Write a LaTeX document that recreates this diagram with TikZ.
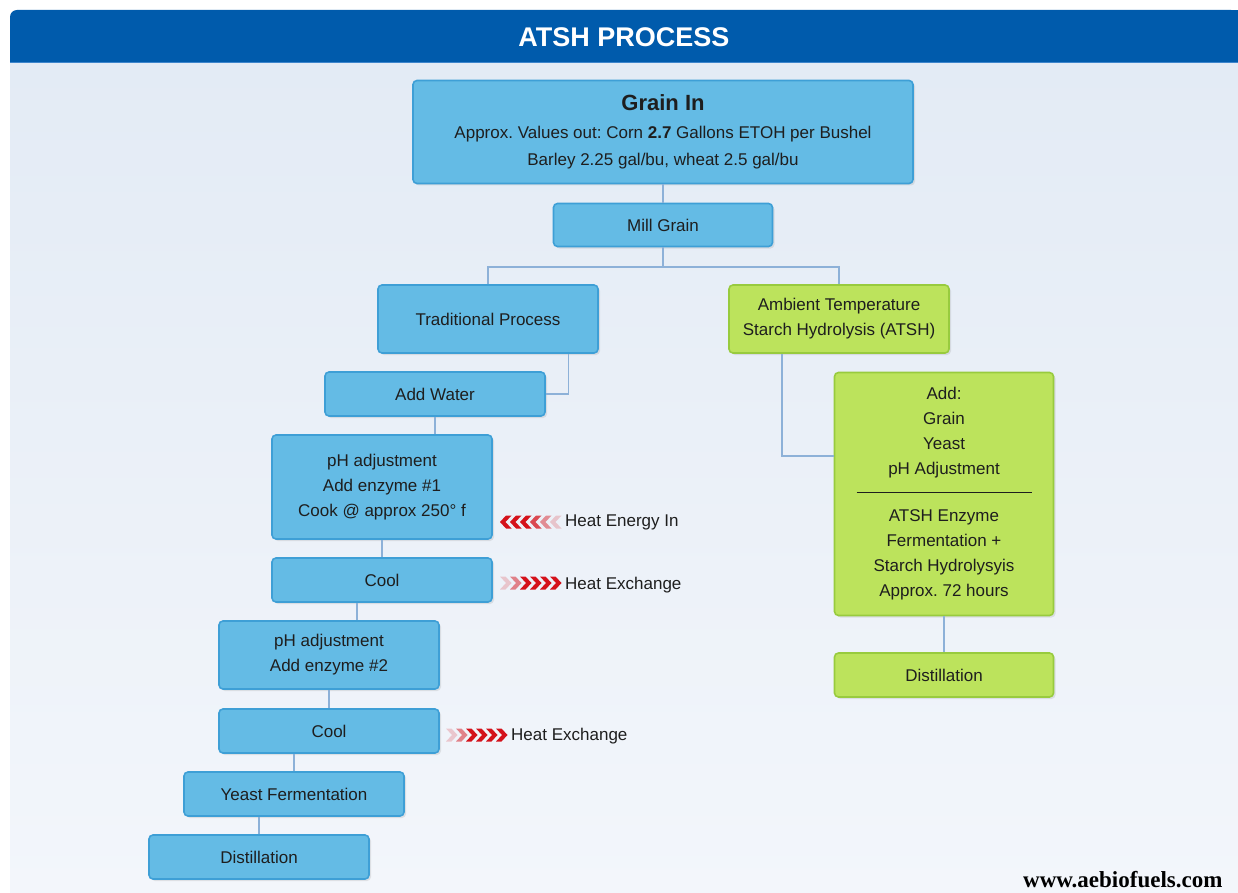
\documentclass[tikz,border=0pt]{standalone}
\usepackage{fontspec}
\setmainfont{Liberation Sans}
\newfontfamily\webfont{Liberation Serif}
\usepackage{xcolor}
\usepackage{tikz}
\usetikzlibrary{positioning, arrows.meta, calc, shadows}
\definecolor{hdrblue}{HTML}{005BAC}
\definecolor{hdrline}{HTML}{3D85CC}
\definecolor{paneltop}{HTML}{E3EBF5}
\definecolor{panelbot}{HTML}{F3F6FB}
\definecolor{boxblue}{HTML}{64BBE5}
\definecolor{edgeblue}{HTML}{3E9FD6}
\definecolor{boxgreen}{HTML}{BCE35C}
\definecolor{edgegreen}{HTML}{98CB3E}
\definecolor{linkblue}{HTML}{8DB1D8}
\definecolor{heatred}{HTML}{D4121B}
\definecolor{inkgray}{HTML}{1E1E1E}
\frenchspacing

\tikzset{
  stage/.style={fill=boxblue, draw=edgeblue, line width=1.6pt, rounded corners=4pt,
    text=inkgray, align=center, font=\fontsize{17}{25}\selectfont,
    minimum width=220pt, minimum height=44pt, inner sep=0pt,
    drop shadow={opacity=0.18, shadow xshift=2pt, shadow yshift=-2pt}},
  atshstage/.style={stage, fill=boxgreen, draw=edgegreen},
  link/.style={draw=linkblue, line width=1.3pt},
  heatlabel/.style={anchor=west, text=inkgray, font=\fontsize{17}{20}\selectfont, inner sep=0pt},
}

\begin{document}
\begin{tikzpicture}[x=1pt, y=-1pt]
    \useasboundingbox (0,0) rectangle (1238,893);
    \fill[white] (0,0) rectangle (1238,893);
    % header and panel
    \shade[top color=paneltop, bottom color=panelbot] (10,62) rectangle (1238,893);
    \fill[hdrblue, rounded corners=7pt] (10,10) rectangle (1238,62);
    \fill[hdrblue] (10,40) rectangle (1238,62);
    \fill[hdrblue] (1200,10) rectangle (1238,62);
    \draw[hdrline, line width=1.2pt] (10,62.5) -- (1238,62.5);
    \node[text=white, font=\fontsize{27}{30}\selectfont\bfseries] (title) at (624,37) {ATSH PROCESS};

    % boxes
    \node[stage, minimum width=500pt, minimum height=103pt] (grainin) at (663,132)
      {{\fontsize{22}{25}\selectfont\bfseries Grain In}\\[3pt]
       Approx. Values out: Corn \textbf{2.7} Gallons ETOH per Bushel\\[2pt]
       Barley 2.25 gal/bu, wheat 2.5 gal/bu};
    \node[stage, minimum width=219pt, minimum height=43pt] (mill) at (663,225) {Mill Grain};
    \node[stage, minimum height=68pt] (trad) at (488,319) {Traditional Process};
    \node[atshstage, minimum height=68pt] (atsh) at (839,319) {Ambient Temperature\\Starch Hydrolysis (ATSH)};
    \node[stage] (water) at (435,394) {Add Water};
    \node[stage, minimum height=104pt] (cook) at (382,487) {pH adjustment\\Add enzyme \#1\\Cook @ approx 250° f};
    \node[stage] (cool1) at (382,580) {Cool};
    \node[stage, minimum height=68pt] (enzyme2) at (329,655) {pH adjustment\\Add enzyme \#2};
    \node[stage] (cool2) at (329,731) {Cool};
    \node[stage] (yeast) at (294,794) {Yeast Fermentation};
    \node[stage] (distill) at (259,857) {Distillation};
    \node[atshstage, minimum width=219pt, minimum height=243pt] (atshadd) at (944,494)
      {Add:\\Grain\\Yeast\\pH Adjustment\\[-7pt]\rule{175pt}{1.2pt}\\[4pt]
       ATSH Enzyme\\Fermentation +\\Starch Hydrolysyis\\Approx. 72 hours};
    \node[atshstage, minimum width=219pt] (atshdist) at (944,675) {Distillation};

    % connectors
    \coordinate (split) at (663,267);
    \draw[link] (grainin) -- (mill);
    \draw[link] (mill) -- (split);
    \draw[link] (trad.north) |- (split) -| (atsh.north);
    \draw[link] ([xshift=-30pt]trad.south east) |- (water.east);
    \draw[link] (water.south) -- (water.south |- cook.north);
    \draw[link] (cook) -- (cool1);
    \draw[link] ([xshift=-25pt]cool1.south) -- ([xshift=-25pt]cool1.south |- enzyme2.north);
    \draw[link] (enzyme2) -- (cool2);
    \draw[link] (yeast.north) -- (yeast.north |- cool2.south);
    \draw[link] (distill.north) -- (distill.north |- yeast.south);
    \draw[link] ([xshift=-57pt]atsh.south) |- ([yshift=38pt]atshadd.west);
    \draw[link] (atshadd) -- (atshdist);

    % heat chevrons
    \foreach \i/\op in {0/1, 1/1, 2/1, 3/.75, 4/.45, 5/.2}
      \fill[heatred, opacity=\op, shift={(500+\i*10,522)}]
        (0,0) -- (6,-6.5) -- (11.5,-6.5) -- (5.5,0) -- (11.5,6.5) -- (6,6.5) -- cycle;
    \foreach \i/\op in {0/.2, 1/.5, 2/1, 3/1, 4/1, 5/1} {
      \fill[heatred, opacity=\op, shift={(500+\i*10,583)}]
        (11.5,0) -- (5.5,-6.5) -- (0,-6.5) -- (6,0) -- (0,6.5) -- (5.5,6.5) -- cycle;
      \fill[heatred, opacity=\op, shift={(446+\i*10,735)}]
        (11.5,0) -- (5.5,-6.5) -- (0,-6.5) -- (6,0) -- (0,6.5) -- (5.5,6.5) -- cycle;
    }
    \node[heatlabel] (heatin) at (565,522) {Heat Energy In};
    \node[heatlabel] (heatex1) at (565,585) {Heat Exchange};
    \node[heatlabel] (heatex2) at (511,736) {Heat Exchange};

    \node[anchor=east, text=black, font=\webfont\fontsize{23}{25}\selectfont\bfseries] (site) at (1226,880) {www.aebiofuels.com};
  \end{tikzpicture}
\end{document}
